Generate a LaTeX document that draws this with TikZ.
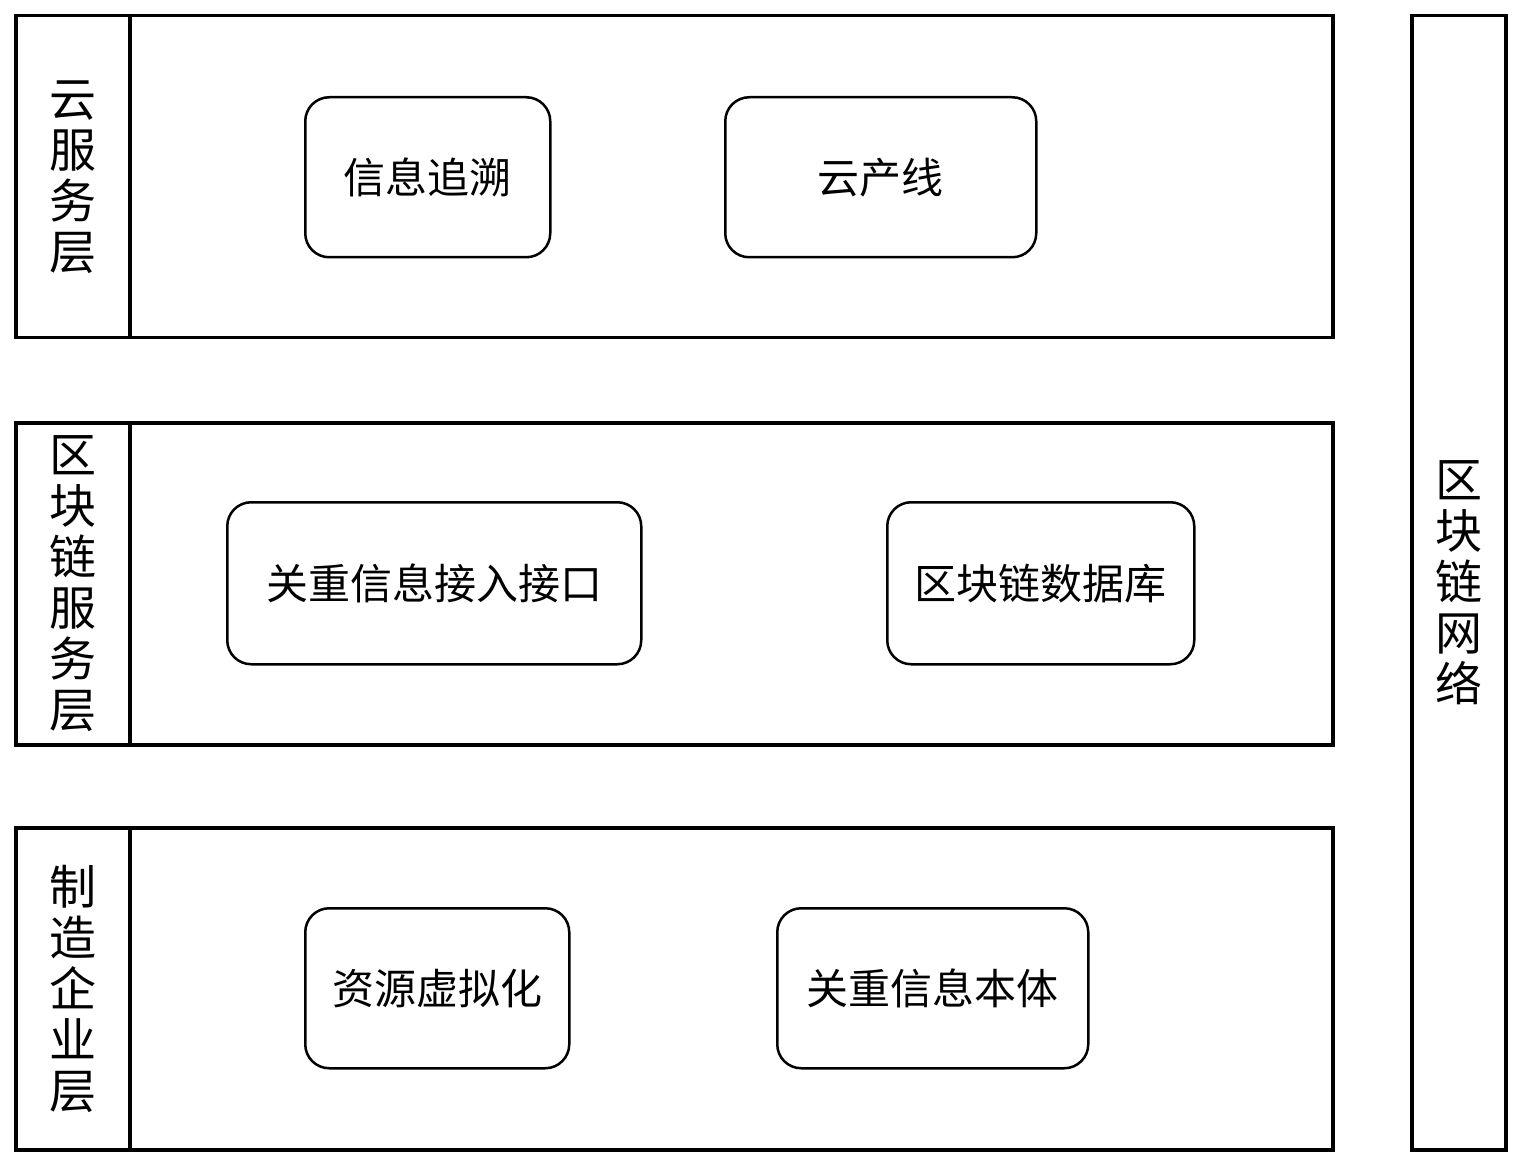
\documentclass[tikz,border=0pt]{standalone}
\usepackage{fontspec}
\newfontfamily\cjk{Noto Sans CJK SC}
\begin{document}
\begin{tikzpicture}[x=1pt,y=-1pt,
  frame/.style={draw,line width=3.5pt,inner sep=0pt,anchor=north west},
  item/.style={draw,line width=2.5pt,rounded corners=24pt,inner sep=0pt,anchor=north west,font=\cjk\fontsize{42}{44}\selectfont},
  vlabel/.style={align=center,font=\cjk\fontsize{47}{51}\selectfont,inner sep=0pt}]
\useasboundingbox (0,0) rectangle (1521,1166);
\foreach \n/\y/\t in {a/14/{云\\服\\务\\层},b/421/{区\\块\\链\\服\\务\\层},c/826/{制\\造\\企\\业\\层}}{
  \node[frame,minimum width=1317pt,minimum height=322pt] (L\n) at (14,\y) {};
  \node[frame,minimum width=114pt,minimum height=322pt] (H\n) at (14,\y) {};
  \node[vlabel] (T\n) at (H\n.center) {\t};
}
\node[frame,minimum width=94pt,minimum height=1134pt] (net) at (1410,14) {};
\node[vlabel] (nett) at (net.center) {区\\块\\链\\网\\络};
\node[item,minimum width=245pt,minimum height=160pt] (i1) at (304,96) {信息追溯};
\node[item,minimum width=311pt,minimum height=160pt] (i2) at (724,96) {云产线};
\node[item,minimum width=414pt,minimum height=162pt] (i3) at (226,501) {关重信息接入接口};
\node[item,minimum width=307pt,minimum height=162pt] (i4) at (886,501) {区块链数据库};
\node[item,minimum width=264pt,minimum height=160pt] (i5) at (304,907) {资源虚拟化};
\node[item,minimum width=311pt,minimum height=160pt] (i6) at (776,907) {关重信息本体};
\end{tikzpicture}
\end{document}
